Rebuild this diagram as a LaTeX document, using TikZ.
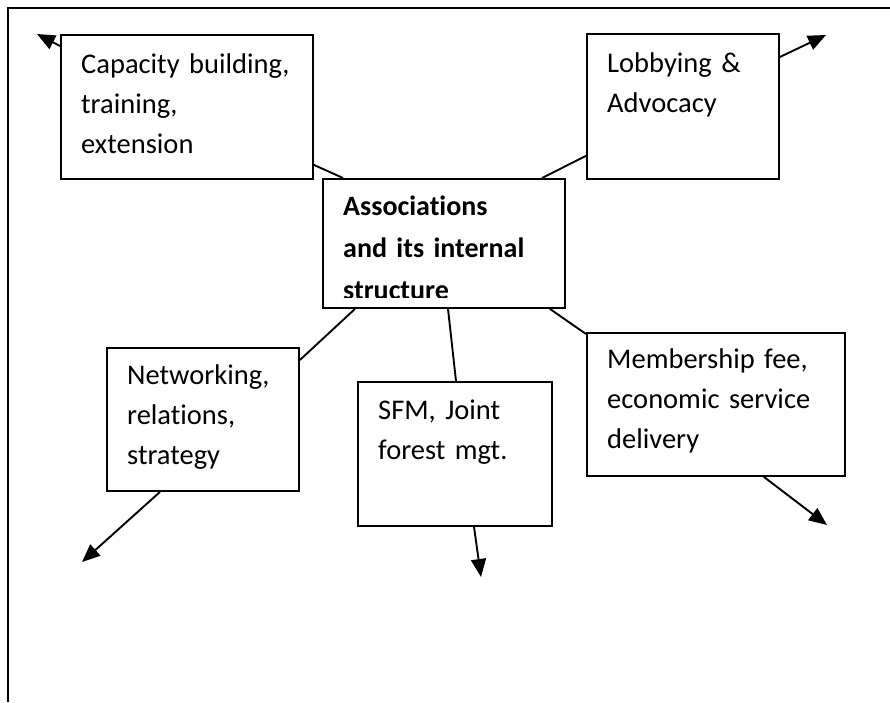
\documentclass[tikz,border=0pt]{standalone}
\usepackage{fontspec}
\setmainfont{Carlito}[Ligatures=CommonOff]
\usetikzlibrary{arrows.meta}
\begin{document}
\begin{tikzpicture}[x=1pt,y=-1pt,
  box/.style={draw=black,line width=1.9pt,rectangle,inner sep=0pt,anchor=north west},
  txt/.style={anchor=base west,inner sep=0pt,align=left,text width=300pt,font=\fontsize{28.5}{40}\selectfont},
  btxt/.style={anchor=base west,inner sep=0pt,align=left,text width=300pt,font=\fontsize{28}{42}\selectfont\bfseries},
  conn/.style={line width=1.9pt},
  arr/.style={line width=1.9pt,-{Triangle[length=18pt,width=15pt]}}]
\useasboundingbox (0,0) rectangle (890,702);
\draw[line width=1.9pt] (8,702) -- (8,8) -- (890,8);

% boxes
\node[box,minimum width=252pt,minimum height=144pt] (cap) at (60,34) {};
\node[box,minimum width=192pt,minimum height=145pt] (lob) at (586,33) {};
\node[box,minimum width=242pt,minimum height=129pt] (ctr) at (322,178) {};
\node[box,minimum width=192pt,minimum height=143pt] (net) at (106,347) {};
\node[box,minimum width=194pt,minimum height=144pt] (sfm) at (357,381) {};
\node[box,minimum width=258pt,minimum height=143pt] (mem) at (586,332) {};

% texts
\node[txt] (captxt) at (81,73) {Capacity building,\\training,\\extension};
\node[txt] (lobtxt) at (607,72) {Lobbying \&\\Advocacy};
\begin{scope}
\clip (323,179) rectangle (563,297);
\node[btxt] (ctrtxt) at (343,215) {Associations\\and its internal\\structure};
\end{scope}
\node[txt] (nettxt) at (127,384) {Networking,\\relations,\\strategy};
\node[txt] (sfmtxt) at (378,419) {SFM, Joint\\forest mgt.};
\node[txt] (memtxt) at (607,368) {Membership fee,\\economic service\\delivery};

% arrow tips
\coordinate (tcap) at (37,34);
\coordinate (tlob) at (826,35);
\coordinate (tnet) at (82,562);
\coordinate (tsfm) at (481,577);
\coordinate (tmem) at (827,525);

% connectors
\draw[conn] ([yshift=15pt]cap.south east) -- ([xshift=21pt]ctr.north west);
\draw[conn] ([yshift=24pt]lob.south west) -- ([xshift=-24pt]ctr.north east);
\draw[conn] ([yshift=-13pt]net.north east) -- ([xshift=33pt]ctr.south west);
\draw[conn] ([xshift=126pt]ctr.south west) -- ([xshift=99pt]sfm.north west);
\draw[conn] ([xshift=-16pt]ctr.south east) -- ([yshift=-2pt]mem.north west);

\draw[arr] ([yshift=-12pt]cap.north west) -- (tcap);
\draw[arr] ([yshift=-24pt]lob.north east) -- (tlob);
\draw[arr] ([xshift=54pt]net.south west) -- (tnet);
\draw[arr] ([xshift=117pt]sfm.south west) -- (tsfm);
\draw[arr] ([xshift=-82pt]mem.south east) -- (tmem);
\end{tikzpicture}
\end{document}
